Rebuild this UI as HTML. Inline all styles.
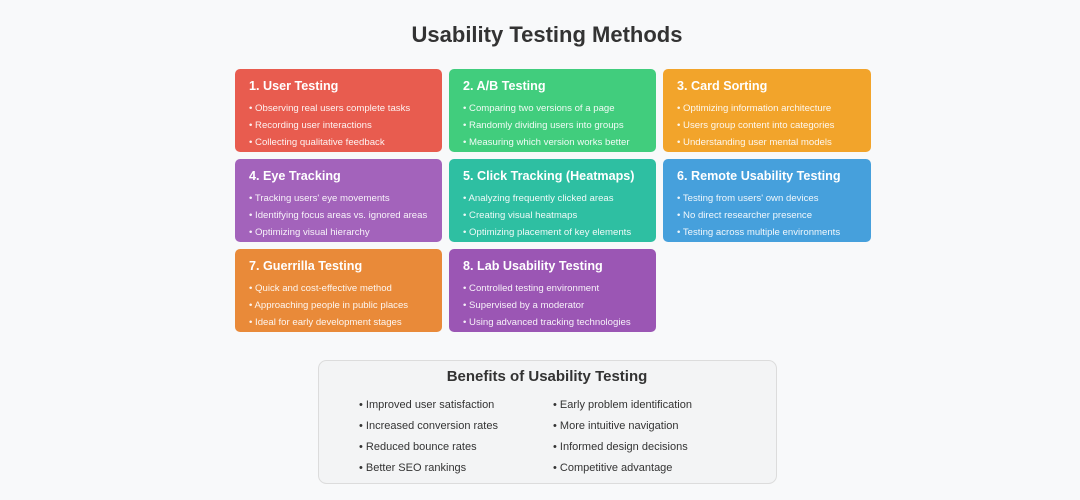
<!DOCTYPE html>
<html><head><meta charset="utf-8"><style>
html,body{margin:0;padding:0;background:#f8f9fa;}
svg{display:block;font-family:"Liberation Sans",sans-serif;}
.t{font-size:12.6px;font-weight:bold;fill:#fff;}
.b{font-size:9.6px;fill:#fff;opacity:.92;}
.g{font-size:11px;fill:#333;}
</style></head><body>
<svg width="1080" height="500" viewBox="0 0 1080 500">
<rect width="1080" height="500" fill="#f8f9fa"/>
<text x="547" y="42" text-anchor="middle" font-size="22" font-weight="bold" fill="#333">Usability Testing Methods</text>

<g>
<rect x="235" y="69" width="207" height="83" rx="5" fill="#e85c4f"/>
<text class="t" x="249" y="90">1. User Testing</text>
<text class="b" x="249" y="111">• Observing real users complete tasks</text>
<text class="b" x="249" y="128">• Recording user interactions</text>
<text class="b" x="249" y="145">• Collecting qualitative feedback</text>

<rect x="449" y="69" width="207" height="83" rx="5" fill="#41cd7d"/>
<text class="t" x="463" y="90">2. A/B Testing</text>
<text class="b" x="463" y="111">• Comparing two versions of a page</text>
<text class="b" x="463" y="128">• Randomly dividing users into groups</text>
<text class="b" x="463" y="145">• Measuring which version works better</text>

<rect x="663" y="69" width="208" height="83" rx="5" fill="#f2a42b"/>
<text class="t" x="677" y="90">3. Card Sorting</text>
<text class="b" x="677" y="111">• Optimizing information architecture</text>
<text class="b" x="677" y="128">• Users group content into categories</text>
<text class="b" x="677" y="145">• Understanding user mental models</text>

<rect x="235" y="159" width="207" height="83" rx="5" fill="#a363bb"/>
<text class="t" x="249" y="180">4. Eye Tracking</text>
<text class="b" x="249" y="201">• Tracking users' eye movements</text>
<text class="b" x="249" y="218">• Identifying focus areas vs. ignored areas</text>
<text class="b" x="249" y="235">• Optimizing visual hierarchy</text>

<rect x="449" y="159" width="207" height="83" rx="5" fill="#2ebfa2"/>
<text class="t" x="463" y="180">5. Click Tracking (Heatmaps)</text>
<text class="b" x="463" y="201">• Analyzing frequently clicked areas</text>
<text class="b" x="463" y="218">• Creating visual heatmaps</text>
<text class="b" x="463" y="235">• Optimizing placement of key elements</text>

<rect x="663" y="159" width="208" height="83" rx="5" fill="#46a0dc"/>
<text class="t" x="677" y="180">6. Remote Usability Testing</text>
<text class="b" x="677" y="201">• Testing from users' own devices</text>
<text class="b" x="677" y="218">• No direct researcher presence</text>
<text class="b" x="677" y="235">• Testing across multiple environments</text>

<rect x="235" y="249" width="207" height="83" rx="5" fill="#e98a39"/>
<text class="t" x="249" y="270">7. Guerrilla Testing</text>
<text class="b" x="249" y="291">• Quick and cost-effective method</text>
<text class="b" x="249" y="308">• Approaching people in public places</text>
<text class="b" x="249" y="325">• Ideal for early development stages</text>

<rect x="449" y="249" width="207" height="83" rx="5" fill="#9b56b4"/>
<text class="t" x="463" y="270">8. Lab Usability Testing</text>
<text class="b" x="463" y="291">• Controlled testing environment</text>
<text class="b" x="463" y="308">• Supervised by a moderator</text>
<text class="b" x="463" y="325">• Using advanced tracking technologies</text>
</g>

<rect x="318.5" y="360.5" width="458" height="123" rx="8" fill="#f3f4f5" stroke="#dcdcdc"/>
<text x="547" y="381" text-anchor="middle" font-size="15" font-weight="bold" fill="#333">Benefits of Usability Testing</text>
<text class="g" x="359" y="408">• Improved user satisfaction</text>
<text class="g" x="359" y="429">• Increased conversion rates</text>
<text class="g" x="359" y="450">• Reduced bounce rates</text>
<text class="g" x="359" y="471">• Better SEO rankings</text>
<text class="g" x="553" y="408">• Early problem identification</text>
<text class="g" x="553" y="429">• More intuitive navigation</text>
<text class="g" x="553" y="450">• Informed design decisions</text>
<text class="g" x="553" y="471">• Competitive advantage</text>
</svg>
</body></html>
